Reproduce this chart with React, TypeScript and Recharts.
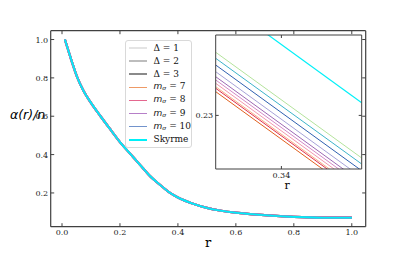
import React from "react";
import { LineChart, Line, XAxis, YAxis, Legend, CartesianGrid } from "recharts";

// main curve alpha(r)/n
const rValues = [0.01, 0.02, 0.035, 0.052, 0.075, 0.1, 0.133, 0.17, 0.2, 0.235, 0.27, 0.3, 0.34, 0.373, 0.4, 0.45, 0.5, 0.55, 0.6, 0.65, 0.7, 0.8, 0.9, 1.0];
const alphaValues = [1.0, 0.952, 0.88, 0.805, 0.73, 0.67, 0.6, 0.525, 0.465, 0.405, 0.345, 0.294, 0.24, 0.2, 0.176, 0.145, 0.122, 0.107, 0.097, 0.09, 0.084, 0.075, 0.071, 0.071];

const xTicks = [0, 0.2, 0.4, 0.6, 0.8, 1.0];
const yTicks = [0.2, 0.4, 0.6, 0.8, 1.0];

// inset (zoom around r = 0.34)
const insetR = [0.3355, 0.3455];
const insetGreen = [0.23848, 0.22428];
const insetTeal = [0.23767, 0.22347];
const insetBlue = [0.23677, 0.22257];
const insetLavender = [0.23587, 0.22167];
const insetPurple = [0.2352, 0.221];
const insetViolet = [0.23476, 0.22056];
const insetPink = [0.23431, 0.22011];
const insetPeach = [0.23386, 0.21966];
const insetRed = [0.23364, 0.21944];
const insetOrange = [0.23319, 0.21899];
const insetSkyrme = [0.24591, 0.23171];
const insetXTicks = [0.34];
const insetYTicks = [0.23];

const AXIS = "#404040";
const SERIF = "'DejaVu Serif', serif";

const mainData = rValues.map((r, i) => ({ r, alpha: alphaValues[i] }));
const insetData = insetR.map((r, i) => ({
  r,
  green: insetGreen[i],
  teal: insetTeal[i],
  blue: insetBlue[i],
  lavender: insetLavender[i],
  purple: insetPurple[i],
  violet: insetViolet[i],
  pink: insetPink[i],
  peach: insetPeach[i],
  red: insetRed[i],
  orange: insetOrange[i],
  sky: insetSkyrme[i],
}));

const mainSeries = [
  { name: "d1", color: "#e4e4e4" },
  { name: "d2", color: "#bdbdbd" },
  { name: "d3", color: "#8a8a8a" },
  { name: "m7", color: "#ee9a66" },
  { name: "m8", color: "#e4678f" },
  { name: "m9", color: "#b67fc8" },
  { name: "m10", color: "#7293cc" },
  { name: "Skyrme", color: "#00f0f8" },
];

const insetSeries = [
  { key: "green", color: "#b4e39c" },
  { key: "teal", color: "#3db3c9" },
  { key: "blue", color: "#2f60b0" },
  { key: "lavender", color: "#a6a2d8" },
  { key: "purple", color: "#9c68b4" },
  { key: "violet", color: "#d487c6" },
  { key: "pink", color: "#f297ad" },
  { key: "peach", color: "#f6b288" },
  { key: "red", color: "#e0304f" },
  { key: "orange", color: "#e0601e" },
  { key: "sky", color: "#00f0f8" },
];

const makeTick = (side: string, len: number, digits: number, show: boolean) => (props: any) => {
  const { x, y, payload } = props;
  const v = Number(payload.value).toFixed(digits);
  if (side === "bottom")
    return (
      <g>
        <line x1={x} x2={x} y1={y} y2={y - len} stroke={AXIS} />
        {show && (
          <text x={x} y={y + 8.5} textAnchor="middle" fontSize={8} fontFamily={SERIF} fill="#222">
            {v}
          </text>
        )}
      </g>
    );
  if (side === "top") return <line x1={x} x2={x} y1={y} y2={y + len} stroke={AXIS} />;
  if (side === "left")
    return (
      <g>
        <line x1={x} x2={x + len} y1={y} y2={y} stroke={AXIS} />
        {show && (
          <text x={x - 2.5} y={y + 3} textAnchor="end" fontSize={8} fontFamily={SERIF} fill="#222">
            {v}
          </text>
        )}
      </g>
    );
  return <line x1={x} x2={x - len} y1={y} y2={y} stroke={AXIS} />;
};

const labelFor = (name: string) => {
  if (name.startsWith("d")) return <span>Δ = {name.slice(1)}</span>;
  if (name.startsWith("m"))
    return (
      <span>
        <i style={{ fontFamily: "'DejaVu Sans', sans-serif" }}>m</i>
        <sub style={{ fontSize: 6, fontStyle: "italic", verticalAlign: -1 }}>σ</sub> = {name.slice(1)}
      </span>
    );
  return <span>{name}</span>;
};

const renderLegend = () => (
  <div
    style={{
      width: 65,
      height: 105,
      border: "1px solid #d9d9d9",
      borderRadius: 3,
      background: "rgba(255,255,255,0.85)",
      paddingTop: 0.5,
      boxSizing: "content-box",
    }}
  >
    {mainSeries.map((s) => (
      <div key={s.name} style={{ display: "flex", alignItems: "center", height: 13.1 }}>
        <span style={{ display: "inline-block", width: 18, height: 1.6, marginLeft: 3, background: s.color }} />
        <span style={{ marginLeft: 6.5, fontSize: 9, fontFamily: SERIF, color: "#111", whiteSpace: "nowrap", lineHeight: "13px" }}>
          {labelFor(s.name)}
        </span>
      </div>
    ))}
  </div>
);

export default function App() {
  return (
    <div style={{ position: "absolute", left: 0, top: 0, width: 407, height: 255, background: "#fff" }}>
      <div style={{ position: "absolute", left: 0, top: 0 }}>
        <LineChart width={407} height={255} data={mainData} margin={{ top: 29.7, right: 40.3, bottom: 27.3, left: 49.7 }}>
          <XAxis
            dataKey="r"
            type="number"
            domain={[-0.039, 1.048]}
            allowDataOverflow
            ticks={xTicks}
            height={1}
            tickSize={0}
            tickMargin={0}
            tickLine={false}
            axisLine={{ stroke: AXIS, strokeWidth: 1.2 }}
            tick={makeTick("bottom", 3.5, 1, true)}
            label={(p: any) => (
              <text x={p.viewBox.x + p.viewBox.width * 0.5} y={p.viewBox.y + 20} textAnchor="middle" fontSize={13} fontFamily={SERIF}>
                r
              </text>
            )}
          />
          <XAxis
            xAxisId="top"
            orientation="top"
            type="number"
            dataKey="r"
            domain={[-0.039, 1.048]}
            allowDataOverflow
            ticks={xTicks}
            height={1}
            tickSize={0}
            tickMargin={0}
            tickLine={false}
            axisLine={{ stroke: AXIS, strokeWidth: 1.2 }}
            tick={makeTick("top", 3.5, 1, false)}
          />
          <YAxis
            type="number"
            domain={[0.024, 1.046]}
            allowDataOverflow
            ticks={yTicks}
            width={1}
            tickSize={0}
            tickMargin={0}
            tickLine={false}
            axisLine={{ stroke: AXIS, strokeWidth: 1.2 }}
            tick={makeTick("left", 3.5, 1, true)}
            label={(p: any) => (
              <text x={10} y={p.viewBox.y + 88} fontSize={12.5} fontStyle="italic" fontFamily="'DejaVu Sans', sans-serif">
                α(r)/n
              </text>
            )}
          />
          <YAxis
            yAxisId="right"
            orientation="right"
            type="number"
            domain={[0.024, 1.046]}
            allowDataOverflow
            ticks={yTicks}
            width={1}
            tickSize={0}
            tickMargin={0}
            tickLine={false}
            axisLine={{ stroke: AXIS, strokeWidth: 1.2 }}
            tick={makeTick("right", 3.5, 1, false)}
          />
          {mainSeries.map((s) => (
            <Line
              key={s.name}
              name={s.name}
              dataKey="alpha"
              type="monotone"
              stroke={s.color}
              strokeWidth={s.name === "Skyrme" ? 1.6 : 2.2}
              dot={false}
              isAnimationActive={false}
            />
          ))}
          <Legend
            layout="vertical"
            align="center"
            verticalAlign="middle"
            content={renderLegend}
            wrapperStyle={{ left: 125, top: 40, width: 67 }}
          />
        </LineChart>
      </div>
      <div style={{ position: "absolute", left: 0, top: 0 }}>
        <LineChart width={407} height={255} data={insetData} margin={{ top: 34, right: 44.3, bottom: 85, left: 214.7 }}>
          <CartesianGrid fill="#fff" horizontal={false} vertical={false} />
          <XAxis
            dataKey="r"
            type="number"
            domain={[0.3355, 0.3455]}
            allowDataOverflow
            ticks={insetXTicks}
            height={1}
            tickSize={0}
            tickMargin={0}
            tickLine={false}
            axisLine={{ stroke: AXIS, strokeWidth: 1 }}
            tick={makeTick("bottom", 3, 2, true)}
            label={(p: any) => (
              <text x={p.viewBox.x + p.viewBox.width * 0.49} y={p.viewBox.y + 20} textAnchor="middle" fontSize={11} fontFamily={SERIF}>
                r
              </text>
            )}
          />
          <XAxis
            xAxisId="top"
            orientation="top"
            type="number"
            dataKey="r"
            domain={[0.3355, 0.3455]}
            allowDataOverflow
            ticks={insetXTicks}
            height={1}
            tickSize={0}
            tickMargin={0}
            tickLine={false}
            axisLine={{ stroke: AXIS, strokeWidth: 1 }}
            tick={makeTick("top", 3, 2, false)}
          />
          <YAxis
            type="number"
            domain={[0.2228, 0.2408]}
            allowDataOverflow
            ticks={insetYTicks}
            width={1}
            tickSize={0}
            tickMargin={0}
            tickLine={false}
            axisLine={{ stroke: AXIS, strokeWidth: 1 }}
            tick={makeTick("left", 3, 2, true)}
          />
          <YAxis
            yAxisId="right"
            orientation="right"
            type="number"
            domain={[0.2228, 0.2408]}
            allowDataOverflow
            ticks={insetYTicks}
            width={1}
            tickSize={0}
            tickMargin={0}
            tickLine={false}
            axisLine={{ stroke: AXIS, strokeWidth: 1 }}
            tick={makeTick("right", 3, 2, false)}
          />
          {insetSeries.map((s) => (
            <Line
              key={s.key}
              dataKey={s.key}
              type="linear"
              stroke={s.color}
              strokeWidth={s.key === "sky" ? 1.2 : 1}
              dot={false}
              isAnimationActive={false}
            />
          ))}
        </LineChart>
      </div>
    </div>
  );
}
